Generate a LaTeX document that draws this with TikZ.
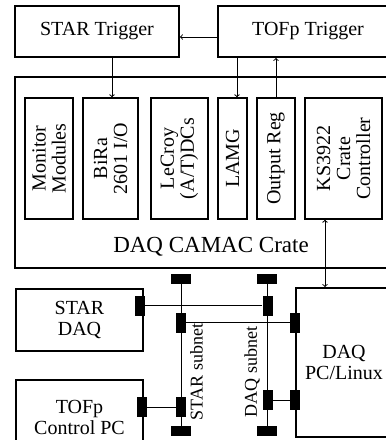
\documentclass[tikz,border=0pt]{standalone}
\usepackage{fontspec}
\setmainfont{Liberation Serif}

\begin{document}
\begin{tikzpicture}[x=1pt, y=-1pt,
    box/.style={draw, line width=1.8pt, inner sep=1pt, align=center, font=\fontsize{20}{21}\selectfont},
    module/.style={draw, line width=1.4pt, rotate=90, inner sep=1pt, align=center, minimum width=121pt, font=\fontsize{20}{20}\selectfont},
    plug/.style={fill=black, inner sep=0pt, minimum width=10pt, minimum height=20pt},
    term/.style={fill=black, inner sep=0pt, minimum width=20pt, minimum height=10pt},
    wire/.style={line width=1pt}]
    % VISIBLE AREA
    \useasboundingbox (0,0) rectangle (386,440);
    \clip (0,0) rectangle (386,440);

    % TRIGGERS
    \node[box, minimum width=164pt, minimum height=51pt] (startrig) at (97,31.5) {STAR Trigger};
    \node[box, minimum width=180pt, minimum height=51pt] (toftrig) at (308,31.5) {TOFp Trigger};

    % CAMAC CRATE AND MODULES
    \node[box, minimum width=385pt, minimum height=191pt] (crate) at (207.5,172.5) {};
    \node[font=\fontsize{23}{23}\selectfont] (cratelbl) at (211,247) {DAQ CAMAC Crate};
    \foreach \n/\cx/\w/\t in {monitor/49/48/{Monitor\\Modules}, bira/110.5/55/{BiRa\\2601 I/O},
        lecroy/179.5/57/{LeCroy\\(A/T)DCs}, lamg/232.5/29/{LAMG}, outreg/276/38/{Output Reg},
        ks/343.5/77/{KS3922\\Crate\\Controller}} {
        \node[module, minimum height=\w pt] (\n) at (\cx,158.5) {\t};
    }

    % TRIGGER LINES
    \draw[wire, ->] (toftrig.west |- 0,37) -- (startrig.east |- 0,37);
    \draw[wire, ->] (startrig.south -| 112,0) -- (bira.east -| 112,0);
    \draw[wire, ->] (toftrig.south -| 237,0) -- (lamg.east -| 237,0);
    \draw[wire, ->] (outreg.east) -- (outreg.east |- toftrig.south);

    % COMPUTERS
    \node[box, minimum width=127pt, minimum height=62pt] (stardaq) at (79.5,320) {STAR\\DAQ};
    \node[box, minimum width=127pt, minimum height=74pt] (tofpc) at (79.5,417) {TOFp\\Control PC};
    \node[box, minimum width=96pt, minimum height=149pt] (daqpc) at (344,362.5) {DAQ\\PC/Linux};
    \draw[wire, <->] (ks.west -| 325,0) -- (daqpc.north -| 325,0);

    % SUBNETS (line with end terminators)
    \foreach \n/\x in {star/181, daq/267} {
        \draw[wire] (\x,279) -- (\x,431);
        \node[term] (\n-top) at (\x,279) {};
        \node[term] (\n-bot) at (\x,431) {};
    }
    \node[rotate=90, font=\fontsize{18}{18}\selectfont] (starlbl) at (196.5,372) {STAR subnet};
    \node[rotate=90, font=\fontsize{18}{18}\selectfont] (daqlbl) at (252,372) {DAQ subnet};

    % PLUGS
    \node[plug] (stardaqplug) at (140,305.5) {};
    \node[plug] (daqplug1) at (267.5,305.5) {};
    \node[plug] (starplug1) at (181,322.5) {};
    \node[plug] (pcplug1) at (295,322.5) {};
    \node[plug] (daqplug2) at (268,400) {};
    \node[plug] (pcplug2) at (295,400) {};
    \node[plug] (tofplug) at (142,407) {};
    \node[plug] (starplug2) at (181,407) {};
    \draw[wire] (stardaqplug) -- (daqplug1);
    \draw[wire] (starplug1) -- (pcplug1);
    \draw[wire] (daqplug2) -- (pcplug2);
    \draw[wire] (tofplug) -- (starplug2);

\end{tikzpicture}
\end{document}
